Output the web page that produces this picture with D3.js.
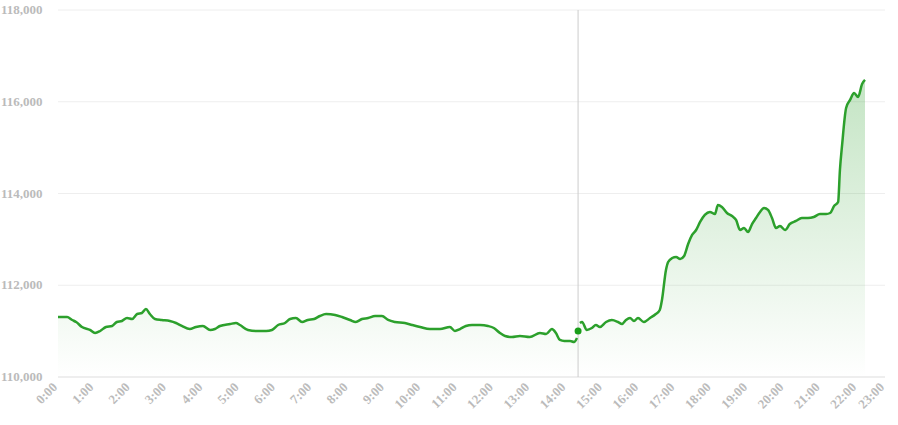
<!DOCTYPE html>
<html><head><meta charset="utf-8">
<script src="https://cdn.jsdelivr.net/npm/d3@7"></script>
<style>body{margin:0;background:#fff}svg{display:block}text{font-family:"Liberation Serif","DejaVu Serif",serif;font-weight:bold;fill:#bbb;font-size:13px}</style>
</head><body><svg id="c" width="898" height="425"></svg>
<script>
const hours=[0,0.25,0.39,0.5,0.66,0.88,1.02,1.16,1.32,1.49,1.62,1.76,1.9,2.04,2.18,2.31,2.42,2.53,2.67,2.86,3.08,3.25,3.41,3.63,3.8,3.99,4.19,4.32,4.46,4.74,4.9,5.01,5.23,5.45,5.73,5.89,6.06,6.25,6.39,6.55,6.72,6.88,7.05,7.21,7.38,7.63,7.82,8.04,8.2,8.37,8.54,8.73,8.92,9.09,9.28,9.55,9.75,9.97,10.24,10.52,10.79,10.93,11.07,11.23,11.4,11.62,11.84,12,12.17,12.31,12.5,12.72,12.99,13.27,13.44,13.6,13.71,13.82,13.94,14.1,14.21,14.29,
14.37,14.43,14.56,14.7,14.81,14.92,15.09,15.25,15.42,15.53,15.64,15.75,15.86,15.97,16.13,16.3,16.46,16.57,16.63,16.74,16.8,16.91,17.02,17.13,17.24,17.35,17.46,17.57,17.68,17.81,17.95,18.09,18.17,18.28,18.42,18.56,18.67,18.78,18.89,19,19.11,19.22,19.33,19.44,19.55,19.66,19.77,19.88,20.02,20.15,20.32,20.48,20.65,20.81,20.98,21.15,21.26,21.37,21.48,21.53,21.59,21.7,21.81,21.92,22.03,22.14,22.22];
const prices=[111308,111308,111243,111199,111090,111025,110959,111003,111090,111112,111199,111221,111286,111264,111373,111395,111482,111373,111264,111243,111221,111177,111112,111046,111090,111112,111025,111046,111112,111155,111177,111134,111025,111003,111003,111025,111134,111177,111264,111286,111199,111243,111264,111330,111373,111352,111308,111243,111199,111264,111286,111330,111330,111243,111199,111177,111134,111090,111046,111046,111090,111003,111046,111112,111134,111134,111112,111068,110959,110894,110872,110894,110872,110959,110937,111046,110959,110807,110785,110785,110763,110850,
111177,111199,111025,111068,111134,111090,111199,111243,111199,111155,111243,111286,111221,111286,111199,111286,111373,111461,111679,112333,112507,112594,112616,112572,112638,112899,113096,113205,113379,113532,113597,113553,113750,113706,113575,113510,113423,113205,113248,113161,113335,113466,113597,113684,113641,113466,113248,113292,113205,113335,113401,113466,113466,113488,113553,113553,113575,113728,113815,114513,115058,115864,116039,116191,116104,116387,116475];
const breakAfter=14.29;
const markerHour=14.32, markerPrice=111003;
const yTicks=[110000,112000,114000,116000,118000];
const xTickHours=d3.range(0,24);
const xTickLabels=xTickHours.map(h=>h+":00");

const svg=d3.select("#c");
const x=d3.scaleLinear().domain([0,22]).range([58,857]);
const xEnd=885;
const y=d3.scaleLinear().domain([110000,118000]).range([377,10]);
const data=hours.map((h,i)=>({h,p:prices[i]}));

const defs=svg.append("defs");
const g=defs.append("linearGradient").attr("id","gr").attr("x1",0).attr("y1",0).attr("x2",0).attr("y2",1);
g.append("stop").attr("offset","0%").attr("stop-color","#2ca02c").attr("stop-opacity",0.28);
g.append("stop").attr("offset","100%").attr("stop-color","#2ca02c").attr("stop-opacity",0.0);

svg.append("g").selectAll("line").data(yTicks).join("line")
 .attr("x1",58).attr("x2",xEnd).attr("y1",d=>y(d)).attr("y2",d=>y(d))
 .attr("stroke",(d,i)=>i==0?"#ddd":"#eee").attr("stroke-width",1);
svg.append("g").selectAll("text").data(yTicks).join("text")
 .attr("x",1).attr("y",d=>y(d)+4).text(d=>d3.format(",")(d));

svg.append("path").datum(data).attr("fill","url(#gr)")
 .attr("d",d3.area().x(d=>x(d.h)).y0(y(110000)).y1(d=>y(d.p)).curve(d3.curveMonotoneX));

svg.append("line").attr("x1",x(markerHour)).attr("x2",x(markerHour)).attr("y1",10).attr("y2",377).attr("stroke","#ccc");

const line=d3.line().x(d=>x(d.h)).y(d=>y(d.p)).curve(d3.curveMonotoneX);
[data.filter(d=>d.h<=breakAfter),data.filter(d=>d.h>breakAfter)].forEach(seg=>
 svg.append("path").datum(seg).attr("fill","none").attr("stroke","#2ca02c").attr("stroke-width",2.5).attr("d",line));
svg.append("circle").attr("cx",x(markerHour)).attr("cy",y(markerPrice)).attr("r",3.5).attr("fill","#1a9e1a");

svg.append("g").selectAll("text").data(xTickHours).join("text")
 .attr("text-anchor","end")
 .attr("transform",h=>`translate(${Math.min(x(h),xEnd)},388) rotate(-45)`)
 .text((h,i)=>xTickLabels[i]);
</script></body></html>
